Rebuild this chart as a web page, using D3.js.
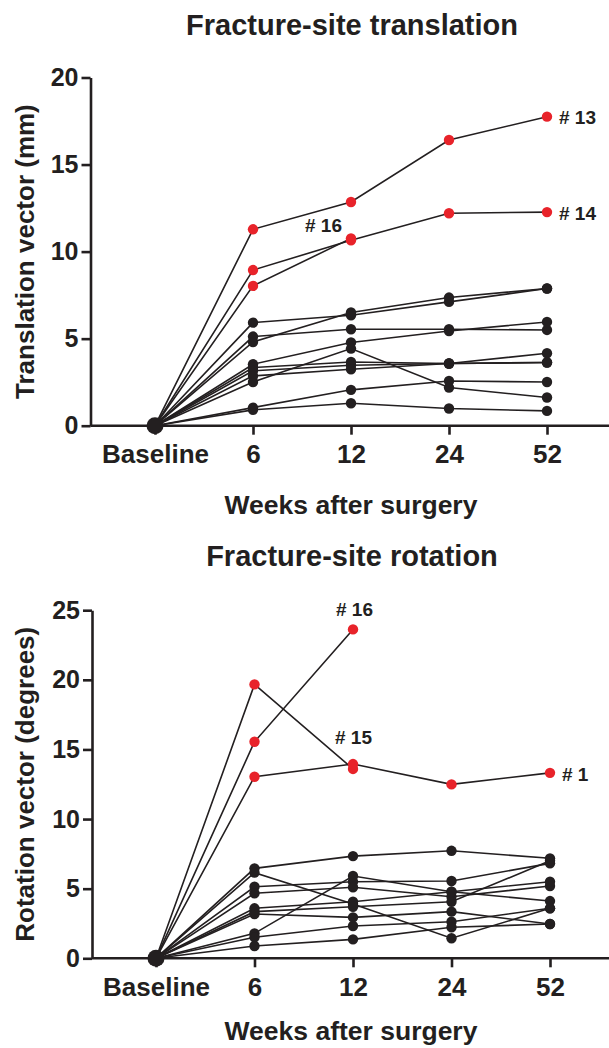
<html>
<head>
<meta charset="UTF-8">
<script src="https://d3js.org/d3.v7.min.js"></script>
<style>
  body { margin: 0; background: #fff; }
  text { font-family: "Liberation Sans", Arial, sans-serif; font-weight: bold; fill: #231f20; }
</style>
</head>
<body>
<div id="chart"></div>
<script>
// time points
var weeks = ["Baseline", "6", "12", "24", "52"];

// translation (mm)
var transTicks = [0, 5, 10, 15, 20];
var trans13 = [0, 11.28, 12.85, 16.41, 17.75];
var trans14 = [0, 8.94, 10.65, 12.2, 12.27];
var trans16 = [0, 8.03, 10.76];
var transOthers = [
  [0, 5.92, 6.34, 7.11, 7.88],
  [0, 4.81, 6.5, 7.36, 7.88],
  [0, 5.12, 5.54, 5.54, 5.5],
  [0, 3.53, 4.78, 5.44, 5.96],
  [0, 2.51, 4.43, 2.19, 1.62],
  [0, 3.34, 3.66, 3.57, 4.16],
  [0, 3.15, 3.47, 3.57, 3.63],
  [0, 2.86, 3.24, 3.57, 3.63],
  [0, 1.04, 2.06, 2.57, 2.51],
  [0, 0.91, 1.29, 0.99, 0.85]
];

// rotation (degrees)
var rotTicks = [0, 5, 10, 15, 20, 25];
var rot16 = [0, 15.55, 23.62];
var rot15 = [0, 19.67, 13.6];
var rot1 = [0, 13.04, 13.95, 12.49, 13.32];
var rotOthers = [
  [0, 6.46, 7.34, 7.72, 7.18],
  [0, 6.15, 3.9, 1.44, 3.59],
  [0, 5.14, 5.5, 5.55, 6.82],
  [0, 4.67, 5.1, 4.42, 5.19],
  [0, 3.59, 4.06, 4.78, 5.5],
  [0, 3.35, 3.7, 4.06, 7.0],
  [0, 3.18, 2.94, 3.35, 2.46],
  [0, 1.79, 5.91, 4.78, 4.11],
  [0, 1.51, 2.32, 2.63, 3.59],
  [0, 0.88, 1.36, 2.23, 2.46]
];

var red = "#e8232a"
var ink = "#231f20"

var svg = d3.select("#chart").append("svg")
  .attr("width", 609)
  .attr("height", 1048)

function drawPanel(o) {
  var g = svg.append("g")

  var x = d3.scalePoint().domain(weeks).range([o.x0, o.x1])
  var y = d3.scaleLinear().domain([0, o.max]).range([o.yBottom, o.yTop])

  g.append("text")
    .attr("x", 352).attr("y", o.titleY)
    .attr("text-anchor", "middle")
    .attr("dominant-baseline", "central")
    .style("font-size", "29px")
    .text(o.title)

  // y axis
  var ya = g.append("g")
    .attr("transform", "translate(" + o.axisX + ",0)")
    .call(d3.axisLeft(y).tickValues(o.ticks).tickSize(9).tickSizeOuter(0).tickPadding(3))
  ya.selectAll("path, line").attr("stroke", ink).attr("stroke-width", 2.6)
  ya.selectAll("text").style("font-size", "25px").attr("fill", ink)

  // x axis
  var xa = g.append("g")
    .attr("transform", "translate(0," + o.yBottom + ")")
    .call(d3.axisBottom(x).tickSize(9).tickPadding(10))
  xa.select(".domain").attr("d", "M" + o.axisX + ",0H609")
  xa.selectAll("path, line").attr("stroke", ink).attr("stroke-width", 2.6)
  xa.selectAll("text").style("font-size", "26px").attr("fill", ink)

  g.append("text")
    .attr("x", 351).attr("y", o.xTitleY)
    .attr("text-anchor", "middle")
    .attr("dominant-baseline", "central")
    .style("font-size", "26.5px")
    .text("Weeks after surgery")

  g.append("text")
    .attr("transform", "translate(25," + (o.yTop + o.yBottom) / 2 + ") rotate(-90)")
    .attr("text-anchor", "middle")
    .attr("dominant-baseline", "central")
    .style("font-size", "26px")
    .text(o.yTitle)

  var line = d3.line()
    .x(function(d, i) { return x(weeks[i]) })
    .y(function(d) { return y(d) })

  var all = o.others.concat(o.reds.map(function(r) { return r.values }))

  g.selectAll(".ln").data(all).enter().append("path")
    .attr("d", line)
    .attr("fill", "none")
    .attr("stroke", ink)
    .attr("stroke-width", 1.6)

  o.others.forEach(function(s) {
    g.selectAll(null).data(s.slice(1)).enter().append("circle")
      .attr("cx", function(d, i) { return x(weeks[i + 1]) })
      .attr("cy", function(d) { return y(d) })
      .attr("r", 5.2)
      .attr("fill", ink)
  })

  o.reds.forEach(function(r) {
    g.selectAll(null).data(r.values.slice(1)).enter().append("circle")
      .attr("cx", function(d, i) { return x(weeks[i + 1]) })
      .attr("cy", function(d) { return y(d) })
      .attr("r", 5.2)
      .attr("fill", red)
    g.append("text")
      .attr("x", r.lx).attr("y", r.ly)
      .attr("dominant-baseline", "central")
      .style("font-size", "19px")
      .text(r.label)
  })

  // baseline point
  g.append("circle")
    .attr("cx", x(weeks[0])).attr("cy", y(0))
    .attr("r", 8.5).attr("fill", ink)
}

drawPanel({
  title: "Fracture-site translation", titleY: 25,
  yTitle: "Translation vector (mm)",
  max: 20, ticks: transTicks,
  x0: 155, x1: 547, axisX: 90.5,
  yTop: 77.5, yBottom: 425.7, xTitleY: 505,
  others: transOthers,
  reds: [
    { values: trans13, label: "# 13", lx: 559, ly: 117 },
    { values: trans14, label: "# 14", lx: 559, ly: 213 },
    { values: trans16, label: "# 16", lx: 305, ly: 225 }
  ]
})

drawPanel({
  title: "Fracture-site rotation", titleY: 556,
  yTitle: "Rotation vector (degrees)",
  max: 25, ticks: rotTicks,
  x0: 156, x1: 550, axisX: 92,
  yTop: 610.2, yBottom: 958.3, xTitleY: 1031,
  others: rotOthers,
  reds: [
    { values: rot16, label: "# 16", lx: 336, ly: 609 },
    { values: rot15, label: "# 15", lx: 335, ly: 737 },
    { values: rot1, label: "# 1", lx: 562, ly: 774 }
  ]
})
</script>
</body>
</html>
